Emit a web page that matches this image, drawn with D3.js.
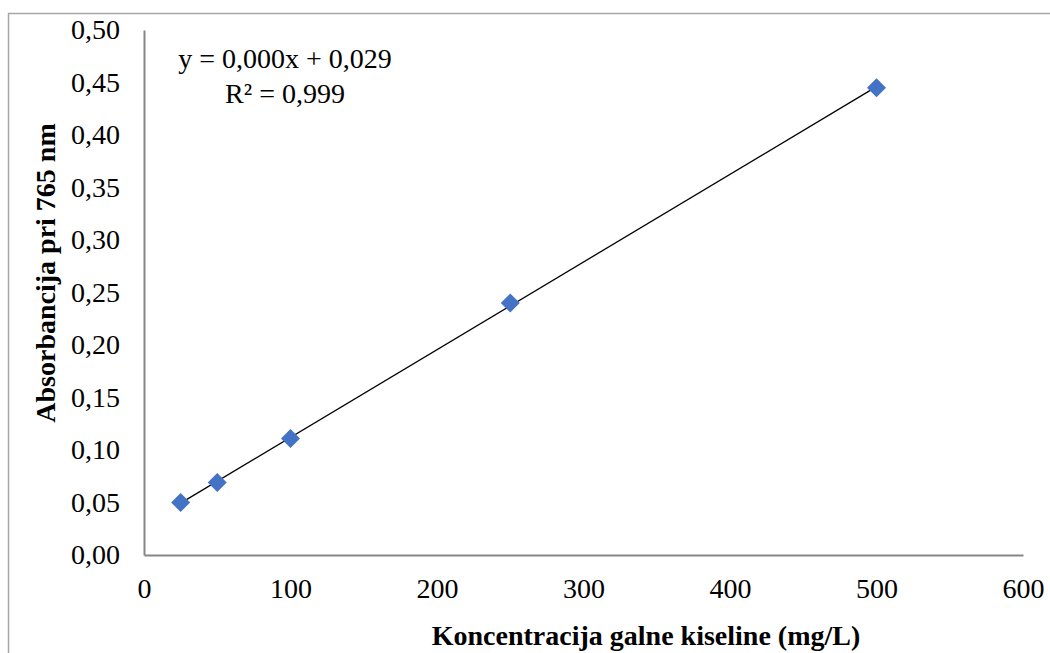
<!DOCTYPE html>
<html><head><meta charset="utf-8">
<script src="https://cdn.jsdelivr.net/npm/d3@7/dist/d3.min.js"></script>
<style>body{margin:0;background:#fff}svg{display:block}</style>
</head><body>
<svg id="c" width="1050" height="653"></svg>
<script>
const concentrations = [25, 50, 100, 250, 500];
const absorbance = [0.050, 0.069, 0.111, 0.240, 0.445];
const xTicks = [0, 100, 200, 300, 400, 500, 600];
const yTicks = [0, 0.05, 0.10, 0.15, 0.20, 0.25, 0.30, 0.35, 0.40, 0.45, 0.50];
const xTitle = "Koncentracija galne kiseline (mg/L)";
const yTitle = "Absorbancija pri 765 nm";
const eqLines = ["y = 0,000x + 0,029", "R² = 0,999"];

const svg = d3.select("#c");
const font = "'Liberation Serif','Times New Roman',serif";
const x = d3.scaleLinear().domain([0, 600]).range([144, 1023]);
const y = d3.scaleLinear().domain([0, 0.5]).range([555, 30]);

// outer frame
svg.append("rect").attr("x", 8.5).attr("y", 13.5).attr("width", 1100).attr("height", 700)
  .attr("fill", "none").attr("stroke", "#a6a6a6").attr("stroke-width", 1.5);

const fmt = d => d3.format(".2f")(d).replace(".", ",");

const ya = svg.append("g").attr("transform", "translate(144,0)")
  .call(d3.axisLeft(y).tickValues(yTicks).tickFormat(fmt).tickSize(0).tickPadding(24));
const xa = svg.append("g").attr("transform", "translate(0,555)")
  .call(d3.axisBottom(x).tickValues(xTicks).tickFormat(d3.format("d")).tickSize(0).tickPadding(23));
[ya, xa].forEach(a => {
  a.attr("font-family", font).attr("font-size", 28);
  a.select(".domain").attr("stroke", "#868686").attr("stroke-width", 2);
  a.selectAll("text").attr("font-family", font).attr("font-size", 28).attr("fill", "#000");
});

// regression line
const n = concentrations.length;
const mx = d3.mean(concentrations), my = d3.mean(absorbance);
let sxy = 0, sxx = 0;
for (let i = 0; i < n; i++) { sxy += (concentrations[i] - mx) * (absorbance[i] - my); sxx += (concentrations[i] - mx) ** 2; }
const slope = sxy / sxx, icpt = my - slope * mx;
const ext = d3.extent(concentrations);
svg.append("line")
  .attr("x1", x(ext[0])).attr("y1", y(slope * ext[0] + icpt))
  .attr("x2", x(ext[1])).attr("y2", y(slope * ext[1] + icpt))
  .attr("stroke", "#000").attr("stroke-width", 1.3);

// markers
const sym = d3.symbol().type(d3.symbolSquare).size(180);
svg.selectAll("path.pt").data(concentrations).join("path").attr("class", "pt")
  .attr("d", sym)
  .attr("transform", (d, i) => `translate(${x(d)},${y(absorbance[i])}) rotate(45)`)
  .attr("fill", "#4472C4");

// equation
svg.append("text").attr("x", 285).attr("y", 68).attr("text-anchor", "middle")
  .attr("font-family", font).attr("font-size", 28).text(eqLines[0]);
svg.append("text").attr("x", 285).attr("y", 103).attr("text-anchor", "middle")
  .attr("font-family", font).attr("font-size", 28).text(eqLines[1]);

// titles
svg.append("text").attr("x", 646).attr("y", 645).attr("text-anchor", "middle")
  .attr("font-family", font).attr("font-size", 28).attr("font-weight", "bold").text(xTitle);
svg.append("text").attr("transform", "translate(55,273) rotate(-90)").attr("text-anchor", "middle")
  .attr("font-family", font).attr("font-size", 28).attr("font-weight", "bold").text(yTitle);
</script>
</body></html>
